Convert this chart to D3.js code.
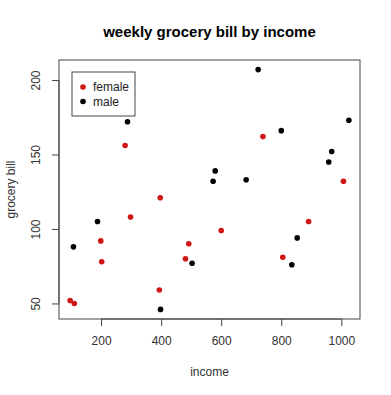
<!DOCTYPE html>
<html>
<head>
<meta charset="utf-8">
<script src="https://cdn.jsdelivr.net/npm/d3@7"></script>
<style>
  body { margin: 0; background: #fff; }
  svg { display: block; font-family: 'Liberation Sans', Arial, sans-serif; }
</style>
</head>
<body>
<div id="chart"></div>
<script>
// weekly grocery bill vs income
const femaleIncome = [97, 111, 199, 202, 280, 298, 394, 397, 481, 492, 600, 739, 805, 891, 1007]
const femaleBill = [52, 50, 92, 78, 156, 108, 59, 121, 80, 90, 99, 162, 81, 105, 132]
const maleIncome = [108, 188, 288, 398, 503, 573, 580, 683, 723, 800, 835, 853, 958, 968, 1025]
const maleBill = [88, 105, 172, 46, 77, 132, 139, 133, 207, 166, 76, 94, 145, 152, 173]

const xTicks = [200, 400, 600, 800, 1000]
const yTicks = [50, 100, 150, 200]
const groups = ['female', 'male']
const colors = { female: '#d01515', male: '#000' }

const width = 391
const height = 395
const box = { left: 59, right: 360, top: 60, bottom: 319 }

const points = [
  ...femaleIncome.map((x, i) => ({ x, y: femaleBill[i], g: 'female' })),
  ...maleIncome.map((x, i) => ({ x, y: maleBill[i], g: 'male' }))
]

// R style 4% padding around the data range
const pad = ([a, b]) => [a - (b - a) * 0.04, b + (b - a) * 0.04]

const x = d3.scaleLinear()
  .domain(pad(d3.extent(points, d => d.x)))
  .range([box.left, box.right])

const y = d3.scaleLinear()
  .domain(pad(d3.extent(points, d => d.y)))
  .range([box.bottom, box.top])

const svg = d3.select('#chart')
  .append('svg')
  .attr('width', width)
  .attr('height', height)

svg.append('text')
  .attr('x', (box.left + box.right) / 2)
  .attr('y', 37)
  .attr('text-anchor', 'middle')
  .attr('font-size', 15)
  .attr('font-weight', 'bold')
  .text('weekly grocery bill by income')

const xAxis = svg.append('g')
  .attr('transform', `translate(0,${box.bottom})`)
  .call(d3.axisBottom(x).tickValues(xTicks).tickFormat(d3.format('d'))
    .tickSize(7).tickPadding(10).tickSizeOuter(0))

xAxis.select('.domain')
  .attr('d', `M${x(xTicks[0])},0H${x(xTicks[xTicks.length - 1])}`)

const yAxis = svg.append('g')
  .attr('transform', `translate(${box.left},0)`)
  .call(d3.axisLeft(y).tickValues(yTicks).tickFormat(d3.format('d'))
    .tickSize(7).tickSizeOuter(0))

yAxis.select('.domain')
  .attr('d', `M0,${y(yTicks[0])}V${y(yTicks[yTicks.length - 1])}`)

yAxis.selectAll('.tick text')
  .attr('transform', 'rotate(-90)')
  .attr('x', 0)
  .attr('y', -19)
  .attr('dy', 0)
  .attr('text-anchor', 'middle')

svg.selectAll('.tick text')
  .attr('font-size', 12)
  .attr('font-family', null)
  .attr('fill', '#333')
svg.selectAll('.domain, .tick line').attr('stroke', '#444')

svg.append('rect')
  .attr('x', box.left)
  .attr('y', box.top)
  .attr('width', box.right - box.left)
  .attr('height', box.bottom - box.top)
  .attr('fill', 'none')
  .attr('stroke', '#444')

svg.append('text')
  .attr('x', (box.left + box.right) / 2)
  .attr('y', 376)
  .attr('text-anchor', 'middle')
  .attr('font-size', 12)
  .attr('fill', '#333')
  .text('income')

svg.append('text')
  .attr('transform', `translate(15,${(box.top + box.bottom) / 2}) rotate(-90)`)
  .attr('text-anchor', 'middle')
  .attr('font-size', 12)
  .attr('fill', '#333')
  .text('grocery bill')

svg.append('g')
  .selectAll('circle')
  .data(points)
  .join('circle')
  .attr('cx', d => x(d.x))
  .attr('cy', d => y(d.y))
  .attr('r', 2.8)
  .attr('fill', d => colors[d.g])

const legend = svg.append('g')
  .attr('transform', 'translate(72,72)')

legend.append('rect')
  .attr('width', 63)
  .attr('height', 44)
  .attr('fill', '#fff')
  .attr('stroke', '#444')

const item = legend.selectAll('g.item')
  .data(groups)
  .join('g')
  .attr('class', 'item')
  .attr('transform', (d, i) => `translate(0,${15 + i * 14.5})`)

item.append('circle')
  .attr('cx', 11)
  .attr('r', 2.8)
  .attr('fill', d => colors[d])

item.append('text')
  .attr('x', 21)
  .attr('dy', '0.35em')
  .attr('font-size', 12)
  .attr('fill', '#222')
  .text(d => d)
</script>
</body>
</html>
